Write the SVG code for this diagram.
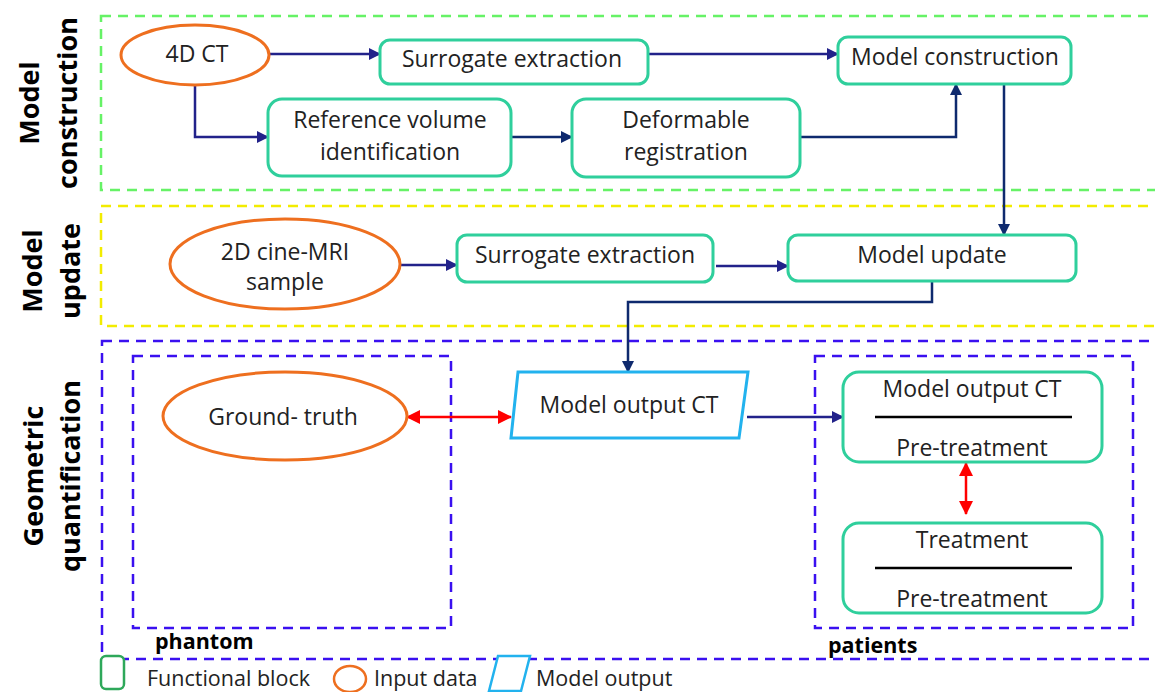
<svg xmlns="http://www.w3.org/2000/svg" width="1155" height="692" viewBox="0 0 1155 692">
  <defs>
    <style>
      text { font-family: "Open Sans", "Noto Sans", "Liberation Sans", sans-serif; fill: #222; }
      .lbl { font-size: 23px; text-anchor: middle; }
      .side { font-size: 27px; font-weight: bold; text-anchor: middle; fill: #000; }
      .tag { font-size: 21.5px; font-weight: bold; fill: #000; }
      .leg { font-size: 21.5px; fill: #222; }
      .block { fill: #fff; stroke: #2fcf9c; stroke-width: 3; }
      .input { fill: #fff; stroke: #ee6f1f; stroke-width: 3; }
      .output { fill: #fff; stroke: #22b2ee; stroke-width: 3; }
      .frac { stroke: #000; stroke-width: 2.5; }
      .zone { fill: none; stroke-width: 2.5; stroke-dasharray: 10 7; }
      .flow { fill: none; stroke: #22228a; stroke-width: 2.5; }
      .flow2 { fill: none; stroke: #0f2a6e; stroke-width: 2.5; }
      .cmp { fill: none; stroke: #ff0000; stroke-width: 2.5; }
    </style>
    <marker id="ah" viewBox="0 0 12 12" refX="11" refY="6" markerWidth="12" markerHeight="12" markerUnits="userSpaceOnUse" orient="auto">
      <path d="M0,0 L12,6 L0,12 Z" fill="#22228a"/>
    </marker>
    <marker id="ah2" viewBox="0 0 12 12" refX="11" refY="6" markerWidth="12" markerHeight="12" markerUnits="userSpaceOnUse" orient="auto">
      <path d="M0,0 L12,6 L0,12 Z" fill="#0f2a6e"/>
    </marker>
    <marker id="rh" viewBox="0 0 14 14" refX="13" refY="7" markerWidth="14" markerHeight="14" markerUnits="userSpaceOnUse" orient="auto-start-reverse">
      <path d="M0,0 L14,7 L0,14 Z" fill="#ff0000"/>
    </marker>
  </defs>

  <rect width="1155" height="692" fill="#fff"/>

  <!-- stage frames -->
  <g id="zones">
    <rect class="zone" x="101" y="16" width="1070" height="174" stroke="#66f266"/>
    <rect class="zone" x="101" y="206" width="1070" height="120" stroke="#f2ec00"/>
    <rect class="zone" x="102" y="341" width="1070" height="318" stroke="#3a10f0"/>
    <rect class="zone" x="133" y="356" width="318" height="272" stroke="#3a10f0"/>
    <rect class="zone" x="815" y="356" width="318" height="272" stroke="#3a10f0"/>
  </g>

  <!-- stage titles -->
  <g id="stage-labels">
    <text class="side" transform="translate(39,103) rotate(-90)">Model</text>
    <text class="side" transform="translate(77,103) rotate(-90)">construction</text>
    <text class="side" transform="translate(42,271) rotate(-90)">Model</text>
    <text class="side" transform="translate(80,271) rotate(-90)">update</text>
    <text class="side" transform="translate(43,476) rotate(-90)">Geometric</text>
    <text class="side" transform="translate(80,476) rotate(-90)">quantification</text>
    <text class="tag" x="155" y="649">phantom</text>
    <text class="tag" x="828" y="653">patients</text>
  </g>

  <!-- connectors -->
  <g id="connectors">
    <path class="flow" d="M269,54 H380" marker-end="url(#ah)"/>
    <path class="flow" d="M195,85 V137 H268" marker-end="url(#ah)"/>
    <path class="flow2" d="M511,137 H572" marker-end="url(#ah2)"/>
    <path class="flow" d="M648,54 H838" marker-end="url(#ah)"/>
    <path class="flow2" d="M800,137 H956 V84" marker-end="url(#ah2)"/>
    <path class="flow2" d="M1004,84 V235" marker-end="url(#ah2)"/>
    <path class="flow" d="M400,265 H457" marker-end="url(#ah)"/>
    <path class="flow" d="M716,266 H788" marker-end="url(#ah)"/>
    <path class="flow2" d="M932,281 V302 H628 V372" marker-end="url(#ah2)"/>
    <path class="flow" d="M747,417 H843" marker-end="url(#ah)"/>
    <path class="cmp" d="M407,417 H511" marker-start="url(#rh)" marker-end="url(#rh)"/>
    <path class="cmp" d="M966,463 V514" marker-start="url(#rh)" marker-end="url(#rh)"/>
  </g>

  <!-- model construction -->
  <g id="ct4d">
    <ellipse class="input" cx="195" cy="55" rx="74" ry="30"/>
    <text class="lbl" x="197" y="62">4D CT</text>
  </g>
  <g id="surrogate-ct">
    <rect class="block" x="380" y="40" width="268" height="44" rx="10"/>
    <text class="lbl" x="512" y="67">Surrogate extraction</text>
  </g>
  <g id="model-construction">
    <rect class="block" x="838" y="37" width="233" height="47" rx="10"/>
    <text class="lbl" x="955" y="65">Model construction</text>
  </g>
  <g id="reference-volume">
    <rect class="block" x="268" y="99" width="243" height="77" rx="14"/>
    <text class="lbl" x="390" y="128">Reference volume</text>
    <text class="lbl" x="390" y="160">identification</text>
  </g>
  <g id="deformable-registration">
    <rect class="block" x="572" y="99" width="228" height="78" rx="14"/>
    <text class="lbl" x="686" y="128">Deformable</text>
    <text class="lbl" x="686" y="160">registration</text>
  </g>

  <!-- model update -->
  <g id="cine-mri">
    <ellipse class="input" cx="285" cy="264" rx="115" ry="45"/>
    <text class="lbl" x="285" y="260">2D cine-MRI</text>
    <text class="lbl" x="285" y="290">sample</text>
  </g>
  <g id="surrogate-mri">
    <rect class="block" x="457" y="235" width="256" height="47" rx="10"/>
    <text class="lbl" x="585" y="263">Surrogate extraction</text>
  </g>
  <g id="model-update">
    <rect class="block" x="788" y="235" width="288" height="46" rx="10"/>
    <text class="lbl" x="932" y="263">Model  update</text>
  </g>

  <!-- geometric quantification -->
  <g id="ground-truth">
    <ellipse class="input" cx="285" cy="416" rx="122" ry="44"/>
    <text class="lbl" x="283" y="425">Ground- truth</text>
  </g>
  <g id="model-output-ct">
    <path class="output" d="M518,372 H748 L739,438 H511 Z"/>
    <text class="lbl" x="629" y="413">Model output CT</text>
  </g>
  <g id="ratio-output">
    <rect class="block" x="843" y="372" width="259" height="90" rx="16"/>
    <text class="lbl" x="972" y="397">Model output CT</text>
    <line class="frac" x1="875" y1="417" x2="1072" y2="417"/>
    <text class="lbl" x="972" y="456">Pre-treatment</text>
  </g>
  <g id="ratio-treatment">
    <rect class="block" x="843" y="523" width="259" height="90" rx="16"/>
    <text class="lbl" x="972" y="548">Treatment</text>
    <line class="frac" x1="875" y1="568" x2="1072" y2="568"/>
    <text class="lbl" x="972" y="607">Pre-treatment</text>
  </g>

  <!-- key -->
  <g id="legend">
    <rect x="101" y="656" width="23" height="33" rx="5" fill="#fff" stroke="#2ea85a" stroke-width="2.5"/>
    <text class="leg" x="147" y="686">Functional block</text>
    <ellipse cx="350" cy="679" rx="16" ry="13" fill="#fff" stroke="#ee6f1f" stroke-width="2.5"/>
    <text class="leg" x="374" y="686">Input data</text>
    <path d="M498,656 H530 L521,691 H489 Z" fill="#fff" stroke="#22b2ee" stroke-width="2.5"/>
    <text class="leg" x="536" y="686">Model output</text>
  </g>
</svg>
